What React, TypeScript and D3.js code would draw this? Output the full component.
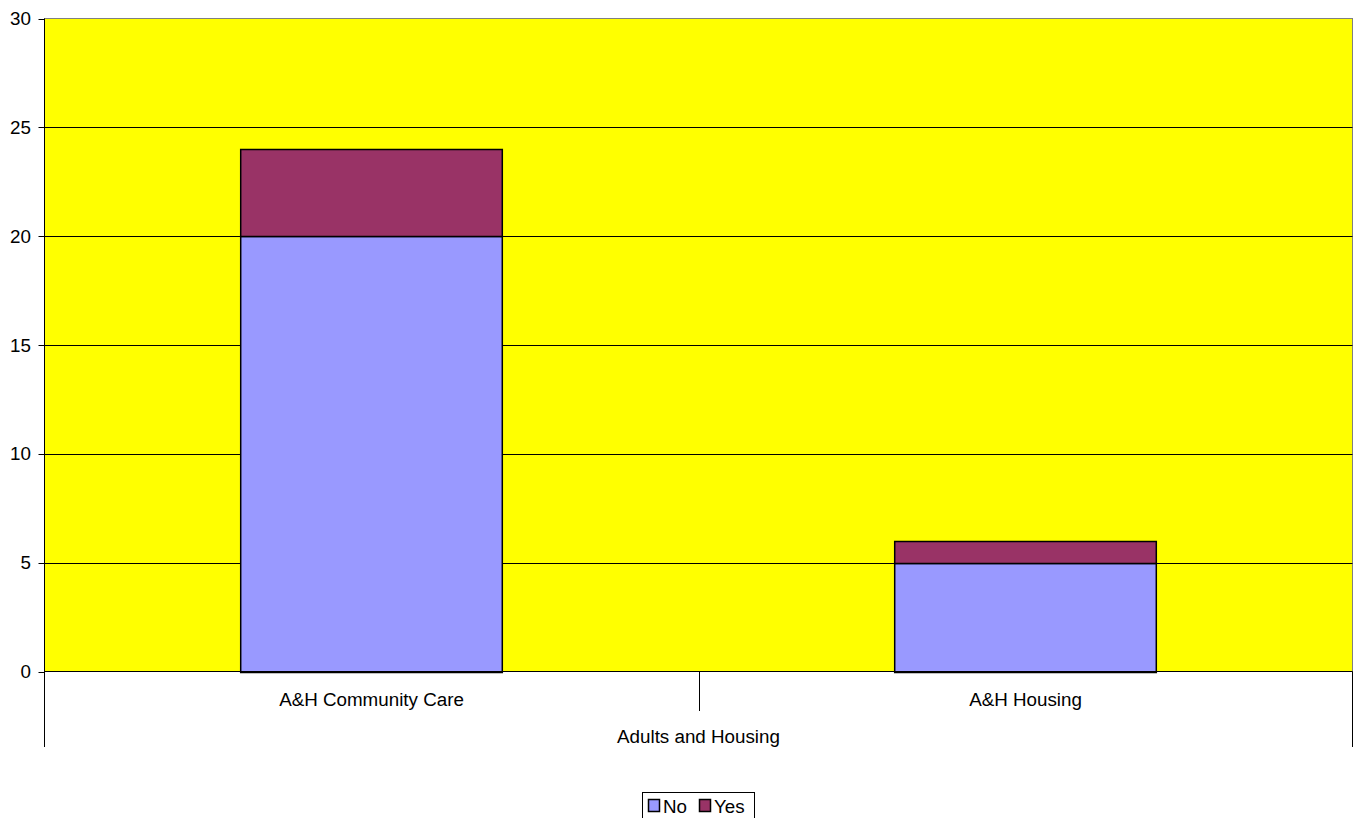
import React from "react";
import * as d3 from "d3";

const categories = ["A&H Community Care", "A&H Housing"];
const groupLabel = "Adults and Housing";
const seriesNames = ["No", "Yes"];
const noValues = [20, 5];
const yesValues = [4, 1];
const yTicks = [0, 5, 10, 15, 20, 25, 30];
const colors = ["#9999FF", "#993366"];

export default function App() {
  const W = 1353, H = 818;
  const left = 44.5, right = 1352.5, top = 18.5, bottom = 671.5;
  const x = d3.scaleBand<string>().domain(categories).range([left, right]).paddingInner(0.6).paddingOuter(0.3);
  const xOuter = d3.scaleBand<string>().domain(categories).range([left, right]);
  const y = d3.scaleLinear().domain([0, 30]).range([bottom, top]);
  const stackData = categories.map((c, i) => ({ cat: c, No: noValues[i], Yes: yesValues[i] }));
  const stacked = d3.stack<any>().keys(seriesNames)(stackData);
  const font = "Arial, 'Liberation Sans', sans-serif";
  const fs = 18.8;
  const midX = xOuter(categories[1])!;
  return (
    <svg width={W} height={H} style={{ position: "absolute", left: 0, top: 0 }} fontFamily={font}>
      <rect x={left} y={top} width={right - left} height={bottom - top} fill="#FFFF00" stroke="#808080" strokeWidth={1} />
      {yTicks.filter(t => t > 0 && t < 30).map(t => (
        <line key={t} x1={left} x2={right} y1={Math.round(y(t)) + 0.5} y2={Math.round(y(t)) + 0.5} stroke="#000" strokeWidth={1} />
      ))}
      {stacked.map((s, si) => s.map((d, i) => (
        <rect key={si + "-" + i} x={x(categories[i])!} width={x.bandwidth()}
          y={Math.round(y(d[1])) + 0.5} height={Math.round(y(d[0])) - Math.round(y(d[1]))}
          fill={colors[si]} stroke="#000" strokeWidth={1.5} />
      )))}
      <line x1={left} x2={left} y1={top} y2={747} stroke="#000" strokeWidth={1} />
      <line x1={left} x2={right} y1={bottom} y2={bottom} stroke="#000" strokeWidth={1} />
      <line x1={right} x2={right} y1={bottom} y2={747} stroke="#000" strokeWidth={1} />
      <line x1={Math.round(midX) + 0.5} x2={Math.round(midX) + 0.5} y1={bottom} y2={711} stroke="#000" strokeWidth={1} />
      {yTicks.map(t => (
        <g key={t}>
          <line x1={left - 6} x2={left} y1={Math.round(y(t)) + 0.5} y2={Math.round(y(t)) + 0.5} stroke="#000" />
          <text x={31} y={y(t)} dy="0.35em" textAnchor="end" fontSize={fs} fill="#000">{t}</text>
        </g>
      ))}
      {categories.map(c => (
        <text key={c} x={xOuter(c)! + xOuter.bandwidth() / 2} y={706} textAnchor="middle" fontSize={fs} fill="#000">{c}</text>
      ))}
      <text x={(left + right) / 2} y={743} textAnchor="middle" fontSize={fs} fill="#000">{groupLabel}</text>
      <rect x={642.5} y={792.5} width={112} height={30} fill="#fff" stroke="#000" strokeWidth={1} />
      {seriesNames.map((n, i) => {
        const lx = i === 0 ? 648 : 699;
        return (
          <g key={n}>
            <rect x={lx + 0.5} y={799.5} width={11} height={12} fill={colors[i]} stroke="#000" strokeWidth={1.5} />
            <text x={lx + 15} y={813} fontSize={fs} fill="#000">{n}</text>
          </g>
        );
      })}
    </svg>
  );
}
